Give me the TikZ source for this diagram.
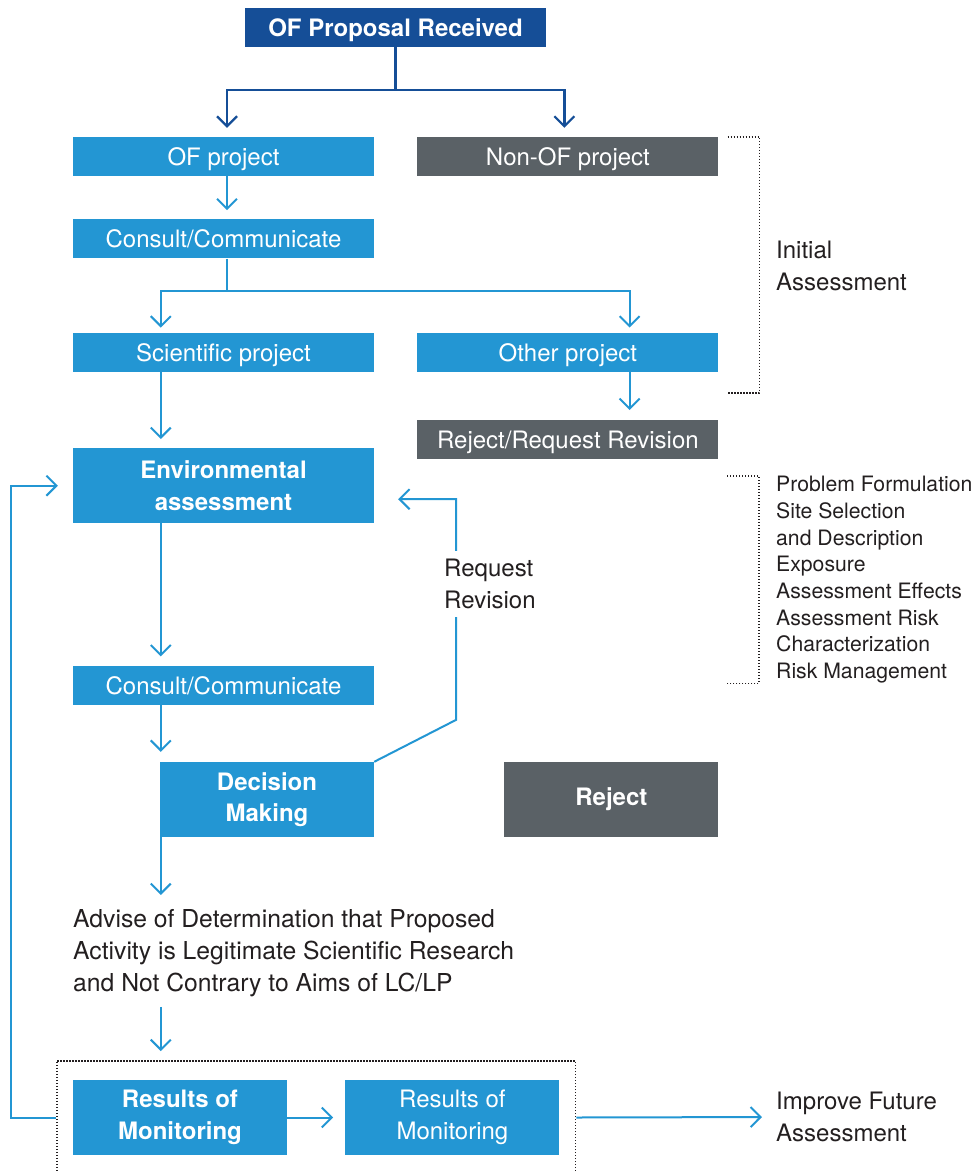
\documentclass[tikz,border=0pt]{standalone}
\usepackage{fontspec}
\setmainfont{TeX Gyre Heros}
\usetikzlibrary{positioning,arrows.meta,fit}

\definecolor{ofblue}{RGB}{35,150,211}
\definecolor{ofnavy}{RGB}{21,78,151}
\definecolor{ofgrey}{RGB}{90,97,102}
\definecolor{ofink}{RGB}{35,31,32}
\newcommand{\boxfont}{\fontsize{24}{31.5}\selectfont}

\begin{document}
\begin{tikzpicture}[
    x=1pt, y=-1pt,
    >={Straight Barb[length=10pt,width=20pt]},
    box/.style={fill=ofblue, text=white, minimum width=301pt, minimum height=39pt, inner sep=0pt, align=center, font=\boxfont},
    single/.style={box, text depth=0pt},
    tall/.style={box, minimum width=214pt, minimum height=75pt},
    bold/.style={font=\boxfont\bfseries},
    grey/.style={fill=ofgrey},
    note/.style={text=ofink, inner sep=0pt, align=left, font=\fontsize{24}{32}\selectfont},
    flow/.style={draw=ofblue, line width=2pt},
    lead/.style={draw=ofnavy, line width=2.2pt},
    dots/.style={draw=ofink, line width=1.5pt, dash pattern=on 1.4pt off 1.6pt}
  ]
  \useasboundingbox (0,0) rectangle (978,1173);
  \clip (0,0) rectangle (978,1173);

  % boxes
  \node[single, bold, fill=ofnavy] (ofprop) at (395.5,27.5) {OF Proposal Received};
  \node[single] (ofproj) at (223.5,156.5) {OF project};
  \node[single, grey, right=43pt of ofproj] (nonof) {Non-OF project};
  \node[single, below=43pt of ofproj] (consult) {Consult/Communicate};
  \node[single, below=74pt of consult] (sci) {Scientific project};
  \node[single, right=43pt of sci] (other) {Other project};
  \node[single, grey, below=48pt of other] (rrr) {Reject/Request Revision};
  \node[box, bold, minimum height=75pt, below=76pt of sci] (env) {Environmental\\assessment};
  \node[single, below=142pt of env] (consult2) {Consult/Communicate};
  \node[tall, bold, below left=57pt and 0pt of consult2.south east] (decision) {Decision\\Making};
  \node[tall, bold, grey, right=130pt of decision] (reject) {Reject};
  \node[note, anchor=north west, font=\fontsize{24.7}{32}\selectfont] (advise) at (73,909)
    {Advise of Determination that Proposed\\Activity is Legitimate Scientific Research\\and Not Contrary to Aims of LC/LP};
  \node[tall, bold] (res1) at (180,1117.5) {Results of\\Monitoring};
  \node[tall, right=58pt of res1] (res2) {Results of\\Monitoring};
  \node[dots, fit=(res1)(res2), inner xsep=16pt, inner ysep=19pt] (monframe) {};
  \node[note, anchor=west] (improve) at (776,1117) {Improve Future\\Assessment};

  % side notes
  \node[note, anchor=west] (initial) at (776,266) {Initial\\Assessment};
  \node[note, anchor=north west, font=\fontsize{21.2}{26.7}\selectfont] (risklist) at (776,476)
    {Problem Formulation\\Site Selection\\and Description\\Exposure\\Assessment Effects\\Assessment Risk\\Characterization\\Risk Management};
  \draw[dots] ([xshift=9pt]nonof.north east) -- ++(32,0) |- ([xshift=9pt,yshift=-21pt]other.south east);
  \draw[dots] ([xshift=-49pt]risklist.north west) -- ++(32,0) |- ([xshift=-49pt]risklist.south west);

  % connectors
  \draw[lead] (ofprop.south) -- ++(0,43) coordinate (fork1);
  \draw[lead,->,shorten >=9pt] (fork1) -| ([xshift=3.5pt]ofproj.north);
  \draw[lead,->,shorten >=9pt] (fork1) -| ([xshift=-3.5pt]nonof.north);
  \draw[flow,->,shorten >=9pt] ([xshift=3.5pt]ofproj.south) -- ([xshift=3.5pt]consult.north);
  \draw[flow] ([xshift=3.5pt]consult.south) -- ++(0,32) coordinate (fork2);
  \draw[flow,->,shorten >=5pt] (fork2) -| ([xshift=88pt]sci.north west);
  \draw[flow,->,shorten >=5pt] (fork2) -| ([xshift=-89pt]other.north east);
  \draw[flow,->,shorten >=10pt] ([xshift=-89pt]other.south east) -- ([xshift=-89pt]rrr.north east);
  \draw[flow,->,shorten >=9pt] ([xshift=88pt]sci.south west) -- ([xshift=88pt]env.north west);
  \draw[flow,->,shorten >=9pt] ([xshift=88pt]env.south west) -- ([xshift=88pt]consult2.north west);
  \draw[flow,->,shorten >=10pt] ([xshift=88pt]consult2.south west) -- ([xshift=1pt]decision.north west);
  \draw[flow,->,shorten >=14pt] ([xshift=1pt]decision.south west) -- ([xshift=1pt]decision.south west |- advise.north);
  \draw[flow,->,shorten <=10pt,shorten >=9pt] ([xshift=1pt]decision.south west |- advise.south) -- ([xshift=1pt]decision.south west |- monframe.north);
  \draw[flow,->] (decision.north east) -- ++(82,-42) |- ([xshift=24pt,yshift=-13.5pt]env.east);
  \node[note, fill=white, inner xsep=4pt, inner ysep=8pt, anchor=west] (revlabel) at (440,584) {Request\\Revision};
  \draw[flow,->,shorten >=12pt] (res1.east) -- (res2.west);
  \draw[flow,->,shorten >=15pt] (monframe.west |- res1.west) -- ++(-45,0) |- (env.west);
  \draw[flow,->,shorten >=14pt] (monframe.east |- res2.east) -- (improve.west);
\end{tikzpicture}
\end{document}
